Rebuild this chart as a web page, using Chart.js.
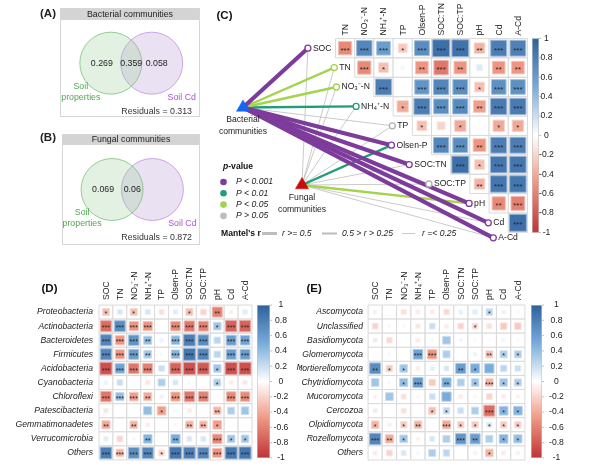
<!DOCTYPE html>
<html><head><meta charset="utf-8">
<script src="https://cdn.jsdelivr.net/npm/chart.js@4.4.1/dist/chart.umd.min.js"></script>
<style>
html,body{margin:0;padding:0;background:#fff;}
#wrap{position:relative;width:600px;height:468px;overflow:hidden;background:#fff;}
#wrap canvas{position:absolute;display:block;}
</style></head><body>
<div id="wrap">
<canvas id="cA" width="200" height="125" style="left:0;top:0;width:200px;height:125px"></canvas>
<canvas id="cB" width="200" height="125" style="left:0;top:125px;width:200px;height:125px"></canvas>
<canvas id="cC" width="400" height="250" style="left:200px;top:0;width:400px;height:250px"></canvas>
<canvas id="cD" width="300" height="218" style="left:0;top:250px;width:300px;height:218px"></canvas>
<canvas id="cE" width="300" height="218" style="left:300px;top:250px;width:300px;height:218px"></canvas>
</div>
<script>
// ================= DATA =================
const envVars = ['SOC','TN','NO₃⁻-N','NH₄⁺-N','TP','Olsen-P','SOC:TN','SOC:TP','pH','Cd','A-Cd'];

// Venn (variation partitioning): [soil properties only, shared, soil Cd only]
const vennA = [0.269, 0.359, 0.058];
const residA = 0.313;
const vennB = [0.069, 0.06, null];
const residB = 0.872;

// Panel C: upper-triangle correlations among soil variables (row i vs variables i+1..)
const cCorr = [
  [-0.55, 0.75, 0.60, -0.25, 0.70, 0.90, 0.88, -0.35, 0.80, 0.78],
  [-0.55, -0.30, -0.05, -0.50, -0.65, -0.50, 0.12, -0.50, -0.50],
  [0.80, 0.02, 0.65, 0.75, 0.70, -0.30, 0.68, 0.68],
  [-0.40, 0.80, 0.70, 0.72, -0.45, 0.82, 0.82],
  [-0.30, -0.20, -0.40, -0.02, -0.40, -0.40],
  [0.75, 0.70, -0.50, 0.80, 0.80],
  [0.90, -0.30, 0.85, 0.85],
  [-0.35, 0.85, 0.85],
  [-0.55, -0.60],
  [0.90]
];
const cStars = [
  [3,3,3,1,3,3,3,2,3,3],
  [3,1,0,2,3,2,0,2,2],
  [3,0,3,3,3,1,3,3],
  [1,3,3,3,2,3,3],
  [1,0,1,0,1,1],
  [3,3,2,3,3],
  [3,1,3,3],
  [2,3,3],
  [2,3],
  [3]
];
// Mantel tests: p class (3: <0.001, 2: <0.01, 1: <0.05, 0: >0.05), r class (2: >=0.5, 1: 0.25-0.5, 0: <0.25)
const bacP  = [3,1,1,2,0,3,3,0,3,3,3];
const bacR  = [2,1,1,1,0,2,2,0,2,2,2];
const fungP = [0,0,0,0,0,2,0,0,1,0,0];
const fungR = [0,0,0,0,0,1,0,0,1,0,0];
const pLegend = ['P > 0.05','P < 0.05','P < 0.01','P < 0.001'];

// Panel D: bacterial phyla vs soil variables
const dTaxa = ['Proteobacteria','Actinobacteria','Bacteroidetes','Firmicutes','Acidobacteria','Cyanobacteria','Chloroflexi','Patescibacteria','Gemmatimonadetes','Verrucomicrobia','Others'];
const dCorr = [
  [-0.30, 0.15, -0.30, 0.15, -0.15, 0.12, -0.30, -0.20, -0.60, 0.08, 0.12],
  [-0.70, 0.70, -0.50, -0.50, 0.02, -0.55, -0.65, -0.60, 0.35, -0.75, -0.75],
  [0.75, -0.50, 0.65, 0.40, 0.08, 0.45, 0.80, 0.70, 0.25, 0.60, 0.55],
  [0.75, -0.50, 0.60, 0.35, 0.05, 0.45, 0.85, 0.75, 0.25, 0.60, 0.60],
  [-0.85, 0.55, -0.65, -0.60, 0.20, -0.75, -0.85, -0.80, 0.35, -0.85, -0.85],
  [0.08, 0.20, 0.01, -0.12, 0.30, 0.15, 0.05, -0.02, 0.30, -0.10, -0.12],
  [-0.65, 0.40, -0.45, -0.40, 0.08, -0.50, -0.65, -0.60, -0.03, -0.55, -0.55],
  [-0.12, 0.02, 0.01, 0.40, -0.45, 0.05, -0.10, 0.01, -0.35, 0.30, 0.35],
  [-0.40, 0.01, -0.35, -0.10, 0.01, -0.05, -0.35, -0.35, -0.45, -0.02, -0.01],
  [0.12, -0.20, 0.05, 0.45, 0.01, 0.50, 0.15, 0.15, -0.55, 0.35, 0.35],
  [0.80, -0.35, 0.70, 0.75, -0.20, 0.85, 0.80, 0.75, -0.50, 0.85, 0.85]
];
const dStars = [
  [1,0,1,0,0,0,1,0,2,0,0],
  [3,3,3,3,0,3,3,3,1,3,3],
  [3,3,3,2,0,3,3,3,0,3,3],
  [3,3,3,2,0,3,3,3,0,3,3],
  [3,3,3,3,0,3,3,3,1,3,3],
  [0,0,0,0,0,0,0,0,1,0,0],
  [3,3,3,2,0,3,3,3,0,3,3],
  [0,0,0,0,1,0,0,0,2,0,0],
  [2,0,2,0,0,0,2,2,1,0,0],
  [0,0,0,2,0,2,0,0,3,1,1],
  [3,3,3,3,1,3,3,3,3,3,3]
];

// Panel E: fungal phyla vs soil variables
const eTaxa = ['Ascomycota','Unclassified','Basidiomycota','Glomeromycota','Mortierellomycota','Chytridiomycota','Mucoromycota','Cercozoa','Olpidiomycota','Rozellomycota','Others'];
const eCorr = [
  [0.08, 0.01, -0.15, -0.10, -0.10, -0.18, 0.10, 0.12, 0.25, 0.08, 0.04],
  [-0.20, 0.04, 0.04, -0.12, 0.20, -0.10, -0.20, -0.20, -0.15, -0.25, -0.25],
  [0.10, -0.18, 0.01, -0.10, 0.05, 0.35, 0.06, 0.04, -0.03, 0.06, 0.04],
  [0.01, 0.05, 0.02, 0.55, -0.50, 0.30, -0.02, 0.08, -0.30, 0.30, 0.30],
  [0.70, -0.25, 0.35, -0.10, 0.10, 0.15, 0.60, 0.50, 0.50, 0.25, 0.20],
  [0.35, 0.05, 0.40, 0.60, -0.25, 0.50, 0.30, 0.35, -0.35, 0.35, 0.30],
  [-0.08, 0.35, -0.15, -0.05, 0.20, 0.50, -0.10, -0.05, -0.20, -0.10, -0.08],
  [0.10, 0.01, -0.15, 0.01, -0.30, 0.25, 0.20, 0.30, -0.70, 0.45, 0.45],
  [-0.35, -0.08, -0.25, -0.35, 0.01, -0.40, -0.25, -0.25, 0.15, -0.25, -0.25],
  [0.75, -0.40, 0.35, -0.08, 0.15, 0.30, 0.65, 0.60, 0.30, 0.45, 0.40],
  [-0.10, -0.20, 0.15, 0.05, 0.30, 0.25, 0.02, -0.08, -0.35, -0.10, -0.08]
];
const eStars = [
  [0,0,0,0,0,0,0,0,1,0,0],
  [0,0,0,0,0,0,0,1,0,0,0],
  [0,0,0,0,0,0,0,0,0,0,0],
  [0,0,0,3,3,0,0,0,2,1,1],
  [2,1,1,0,0,0,2,1,0,0,0],
  [0,0,1,3,0,2,0,1,3,1,1],
  [0,0,0,0,0,0,0,0,0,0,0],
  [0,0,0,0,1,1,0,0,3,1,1],
  [1,0,1,2,0,3,1,1,1,1,1],
  [3,2,1,0,0,0,3,2,0,1,1],
  [0,0,0,0,0,0,0,0,1,0,0]
];
const cbTicks = [1,0.8,0.6,0.4,0.2,0,-0.2,-0.4,-0.6,-0.8,-1];

// ================= STYLE HELPERS =================
const FF = '"Liberation Sans", Arial, Helvetica, sans-serif';
function font(sz, style){ return (style ? style + ' ' : '') + sz + 'px ' + FF; }
const STOPS = [[-1,[190,52,56]],[-0.5,[238,148,128]],[0,[255,255,255]],[0.5,[120,172,218]],[1,[46,96,156]]];
function corrRGB(v){
  v = Math.max(-1, Math.min(1, v));
  for (let i = 0; i < STOPS.length - 1; i++) {
    const a = STOPS[i][0], b = STOPS[i+1][0];
    if (v <= b) { const t = (v - a) / (b - a); return STOPS[i][1].map((c,k) => Math.round(c + (STOPS[i+1][1][k] - c) * t)); }
  }
  return STOPS[STOPS.length-1][1];
}
function rgbStr(c){ return 'rgb(' + c[0] + ',' + c[1] + ',' + c[2] + ')'; }
function lighten(c, t){ return c.map(x => Math.round(x + (255 - x) * t)); }
const P_COLORS = ['#bdbdbd', '#a3d44b', '#1f9e78', '#7d3c9c'];
const R_WIDTHS = [0.8, 2.4, 4.2];

function cellPx(chart){
  const xs = chart.scales.x, ys = chart.scales.y;
  return Math.min(Math.abs(xs.getPixelForValue(1) - xs.getPixelForValue(0)), Math.abs(ys.getPixelForValue(1) - ys.getPixelForValue(0)));
}
function cellDatasets(cells){
  return [
    { data: cells.map(c => ({x:c.x, y:c.y})), pointStyle:'rect',
      pointRadius: ctx => cellPx(ctx.chart) / Math.SQRT2,
      pointBackgroundColor:'#ffffff', pointBorderColor:'#dadada', pointBorderWidth:1, order:10, clip:false },
    { data: cells, pointStyle:'rect',
      pointRadius: ctx => { const v = ctx.raw ? ctx.raw.v : 0; const s = Math.max(1.6, cellPx(ctx.chart) * 0.93 * Math.sqrt(Math.abs(v))); return s / Math.SQRT2; },
      pointBackgroundColor: ctx => rgbStr(corrRGB(ctx.raw ? ctx.raw.v : 0)),
      pointBorderColor: ctx => rgbStr(lighten(corrRGB(ctx.raw ? ctx.raw.v : 0), 0.45)),
      pointBorderWidth:1, order:9, clip:false }
  ];
}
function drawStars(chart, dsIndex, fs){
  const ctx = chart.ctx, meta = chart.getDatasetMeta(dsIndex), data = chart.data.datasets[dsIndex].data;
  ctx.save(); ctx.fillStyle = '#262626'; ctx.font = font(fs); ctx.textAlign = 'center'; ctx.textBaseline = 'alphabetic';
  meta.data.forEach((el, i) => { const s = data[i].s; if (s > 0) ctx.fillText('*'.repeat(s), el.x, el.y + fs * 0.58); });
  ctx.restore();
}
function drawColorbar(ctx, x0, x1, y0, y1, labelX, fs){
  const g = ctx.createLinearGradient(0, y0, 0, y1);
  for (let i = 0; i <= 40; i++) { g.addColorStop(i / 40, rgbStr(corrRGB(1 - 2 * i / 40))); }
  ctx.fillStyle = g; ctx.fillRect(x0, y0, x1 - x0, y1 - y0);
  ctx.strokeStyle = '#c4c4c4'; ctx.lineWidth = 0.6; ctx.strokeRect(x0 + 0.3, y0 + 0.3, x1 - x0 - 0.6, y1 - y0 - 0.6);
  ctx.font = font(fs); ctx.fillStyle = '#222'; ctx.textAlign = 'center'; ctx.textBaseline = 'middle';
  cbTicks.forEach(v => {
    const y = y0 + (1 - v) / 2 * (y1 - y0);
    ctx.strokeStyle = '#999'; ctx.lineWidth = 0.6; ctx.beginPath(); ctx.moveTo(x1, y); ctx.lineTo(x1 + 2, y); ctx.stroke();
    ctx.fillText(String(v), labelX, y);
  });
}
function baseOpts(xmin, xmax, ymin, ymax, pad){
  return {
    responsive:false, animation:false, events:[],
    layout:{padding:pad, autoPadding:false},
    plugins:{legend:{display:false}, tooltip:{enabled:false}, title:{display:false}},
    scales:{ x:{type:'linear', min:xmin, max:xmax, display:false},
             y:{type:'linear', min:ymin, max:ymax, reverse:true, display:false} }
  };
}

// ================= VENN (A, B) =================
const VENN_X = [0.363, 0.655], VENN_Y = 0.445, VENN_R = 31;
function makeVenn(id, vals, resid, title, box, panel, panelY){
  const W = 200, H = 125;
  new Chart(document.getElementById(id), {
    type:'bubble',
    data:{ datasets:[
      { data:[{x:VENN_X[0], y:VENN_Y, r:VENN_R}], backgroundColor:'rgba(150,205,150,0.28)', borderColor:'rgba(120,188,120,0.95)', borderWidth:0.8, clip:false },
      { data:[{x:VENN_X[1], y:VENN_Y, r:VENN_R}], backgroundColor:'rgba(185,160,215,0.30)', borderColor:'rgba(190,140,225,0.95)', borderWidth:0.8, clip:false }
    ]},
    options: baseOpts(0, 1, 0, 1, {left:box.l, right:W - box.r, top:box.t + box.h, bottom:H - box.b}),
    plugins:[{
      id:'vennDecor',
      beforeDatasetsDraw(chart){
        const ctx = chart.ctx; ctx.save();
        ctx.fillStyle = '#d4d4d4'; ctx.fillRect(box.l, box.t, box.r - box.l, box.h);
        ctx.strokeStyle = '#d6d6d6'; ctx.lineWidth = 1; ctx.strokeRect(box.l + 0.5, box.t + 0.5, box.r - box.l - 1, box.b - box.t - 1);
        ctx.fillStyle = '#222'; ctx.font = font(8.8); ctx.textAlign = 'center'; ctx.textBaseline = 'middle';
        ctx.fillText(title, (box.l + box.r) / 2, box.t + box.h / 2 + 0.5);
        ctx.font = font(11.5, 'bold'); ctx.textAlign = 'left'; ctx.fillText(panel, 40, panelY);
        ctx.restore();
      },
      afterDatasetsDraw(chart){
        const ctx = chart.ctx; ctx.save();
        const g = chart.getDatasetMeta(0).data[0], p = chart.getDatasetMeta(1).data[0];
        ctx.font = font(8.8); ctx.textAlign = 'center'; ctx.textBaseline = 'middle'; ctx.fillStyle = '#222';
        ctx.fillText(String(vals[0]), g.x - 9, g.y);
        ctx.fillText(String(vals[1]), (g.x + p.x) / 2, g.y);
        if (vals[2] != null) ctx.fillText(String(vals[2]), p.x + 5, g.y);
        ctx.fillStyle = '#4fa84f';
        ctx.fillText('Soil', g.x - 30, g.y + 23);
        ctx.fillText('properties', g.x - 30, g.y + 34);
        ctx.fillStyle = '#b050d8';
        ctx.fillText('Soil Cd', p.x + 30, g.y + 34);
        ctx.fillStyle = '#333'; ctx.textAlign = 'right';
        ctx.fillText('Residuals = ' + resid, box.r - 8, g.y + 48);
        ctx.restore();
      }
    }]
  });
}
makeVenn('cA', vennA, residA, 'Bacterial communities', {l:60, t:8, r:200, b:117, h:12}, '(A)', 14);
makeVenn('cB', vennB, residB, 'Fungal communities', {l:62, t:9, r:200, b:120, h:11}, '(B)', 12.5);

// ================= PANEL C =================
(function(){
  const W = 400, H = 250;
  const G = {left:135.5, top:38.5, cw:19.2, ch:19.4};
  const xmin = -0.5 - G.left / G.cw, xmax = xmin + W / G.cw;
  const ymin = -0.5 - G.top / G.ch, ymax = ymin + H / G.ch;
  const FS = 8.6;
  const mctx = document.createElement('canvas').getContext('2d');
  mctx.font = font(FS);
  const nodes = envVars.map((name, v) => {
    let lx, y;
    if (v < envVars.length - 1) { lx = (v - 1) + 0.5 - 4 / G.cw; y = v; }
    else { lx = v - 1; y = v - 1 + 15 / G.ch; }
    const x = lx - (mctx.measureText(name).width + 5) / G.cw;
    return {x, y, lx, name};
  });
  const bacNode = {x: xmin + 43 / G.cw, y: ymin + 107.5 / G.ch};
  const fungNode = {x: xmin + 102 / G.cw, y: ymin + 185 / G.ch};

  const cells = [];
  cCorr.forEach((row, r) => row.forEach((v, k) => { cells.push({x: r + k, y: r, v, s: cStars[r][k]}); }));
  const datasets = cellDatasets(cells);
  const lineSets = [];
  [[bacNode, bacP, bacR], [fungNode, fungP, fungR]].forEach(([src, P, R]) => {
    nodes.forEach((n, i) => {
      lineSets.push({ data:[{x:src.x, y:src.y}, {x:n.x, y:n.y}], showLine:true, pointRadius:0,
        borderColor:P_COLORS[P[i]], borderWidth:R_WIDTHS[R[i]], order: P[i] === 0 ? 8 : 7 - R[i] * 0.1, clip:false });
    });
  });
  datasets.push(...lineSets);
  datasets.push({ data: nodes.map(n => ({x:n.x, y:n.y})), pointStyle:'circle', pointRadius:3,
    pointBackgroundColor:'#fff', pointBorderColor: bacP.map(p => p === 0 ? '#b0b0b0' : P_COLORS[p]), pointBorderWidth:1.3, order:2, clip:false });
  const triIndex = datasets.length;
  datasets.push({ data:[bacNode, fungNode], pointStyle:'triangle', pointRadius:7.6,
    pointBackgroundColor:['#1466f5', '#cc0a0a'], pointBorderColor:['#1466f5', '#cc0a0a'], pointBorderWidth:0.5, order:1, clip:false });

  new Chart(document.getElementById('cC'), {
    type:'scatter',
    data:{datasets},
    options: baseOpts(xmin, xmax, ymin, ymax, 0),
    plugins:[{
      id:'cDecor',
      afterDatasetsDraw(chart){
        const ctx = chart.ctx, xs = chart.scales.x, ys = chart.scales.y;
        drawStars(chart, 1, 8);
        ctx.save();
        ctx.fillStyle = '#222'; ctx.font = font(FS);
        // column headers
        for (let c = 1; c < envVars.length; c++) {
          ctx.save(); ctx.translate(xs.getPixelForValue(c - 1) + 0.5, ys.getPixelForValue(-0.5) - 3);
          ctx.rotate(-Math.PI / 2); ctx.textAlign = 'left'; ctx.textBaseline = 'middle';
          ctx.fillText(envVars[c], 0, 0); ctx.restore();
        }
        // diagonal row labels
        ctx.textAlign = 'right'; ctx.textBaseline = 'middle';
        nodes.forEach(n => ctx.fillText(n.name, xs.getPixelForValue(n.lx), ys.getPixelForValue(n.y)));
        // triangle labels
        ctx.textAlign = 'center';
        const tri = chart.getDatasetMeta(triIndex).data;
        ctx.fillText('Bacterial', tri[0].x, tri[0].y + 12.5);
        ctx.fillText('communities', tri[0].x, tri[0].y + 24.5);
        ctx.fillText('Fungal', tri[1].x, tri[1].y + 12.5);
        ctx.fillText('communities', tri[1].x, tri[1].y + 24.5);
        // colorbar
        drawColorbar(ctx, 332, 339, ys.getPixelForValue(-0.5), ys.getPixelForValue(9.5), 346.5, FS);
        // legend: p-value
        ctx.textAlign = 'left'; ctx.textBaseline = 'middle'; ctx.fillStyle = '#111';
        ctx.font = font(FS, 'italic bold'); ctx.fillText('p', 23, 167);
        const pw = ctx.measureText('p').width;
        ctx.font = font(FS, 'bold'); ctx.fillText('-value', 23 + pw, 167);
        [3, 2, 1, 0].forEach((p, i) => {
          const y = 182 + i * 11.3;
          ctx.fillStyle = P_COLORS[p]; ctx.beginPath(); ctx.arc(23.5, y, 3.3, 0, Math.PI * 2); ctx.fill();
          ctx.fillStyle = '#222'; ctx.font = font(FS, 'italic'); ctx.fillText(pLegend[p], 36, y);
        });
        // legend: Mantel's r
        const my = 233.5;
        ctx.font = font(FS, 'bold'); ctx.fillStyle = '#111'; ctx.fillText("Mantel's r", 21, my);
        const items = [[62, 77, 2, 'r >= 0.5', 82], [122, 137, 1, '0.5 > r > 0.25', 142], [202, 215, 0, 'r =< 0.25', 222]];
        items.forEach(([a, b, w, t, tx]) => {
          ctx.strokeStyle = '#bdbdbd'; ctx.lineWidth = [0.8, 2, 3][w];
          ctx.beginPath(); ctx.moveTo(a, my); ctx.lineTo(b, my); ctx.stroke();
          ctx.fillStyle = '#222'; ctx.font = font(FS, 'italic'); ctx.fillText(t, tx, my);
        });
        // panel label
        ctx.fillStyle = '#111'; ctx.font = font(11.5, 'bold'); ctx.fillText('(C)', 16.5, 15.5);
        ctx.restore();
      }
    }]
  });
})();

// ================= PANELS D, E =================
function makeHeat(id, taxa, corr, stars, pad, cb, panel, panelPos, labelGap, extra){
  const cells = [];
  corr.forEach((row, r) => row.forEach((v, c) => cells.push({x:c, y:r, v, s:stars[r][c]})));
  const FS = 8.6;
  new Chart(document.getElementById(id), {
    type:'scatter',
    data:{datasets: cellDatasets(cells)},
    options: baseOpts(-0.5, envVars.length - 0.5, -0.5, taxa.length - 0.5, pad),
    plugins:[{
      id:'heatDecor',
      afterDatasetsDraw(chart){
        const ctx = chart.ctx, xs = chart.scales.x, ys = chart.scales.y, a = chart.chartArea;
        drawStars(chart, 1, 7.2);
        ctx.save();
        ctx.fillStyle = '#222'; ctx.font = font(FS);
        envVars.forEach((name, c) => {
          ctx.save(); ctx.translate(xs.getPixelForValue(c) + 0.5, a.top - 5); ctx.rotate(-Math.PI / 2);
          ctx.textAlign = 'left'; ctx.textBaseline = 'middle'; ctx.fillText(name, 0, 0); ctx.restore();
        });
        ctx.font = font(FS, 'italic'); ctx.textAlign = 'right'; ctx.textBaseline = 'middle';
        taxa.forEach((t, r) => ctx.fillText(t, a.left - labelGap, ys.getPixelForValue(r)));
        drawColorbar(ctx, cb[0], cb[1], a.top, a.bottom - 2, cb[2], FS);
        ctx.fillStyle = '#111'; ctx.font = font(11.5, 'bold'); ctx.textAlign = 'left';
        ctx.fillText(panel, panelPos[0], panelPos[1]);
        if (extra) extra(ctx);
        ctx.restore();
      }
    }]
  });
}
makeHeat('cD', dTaxa, dCorr, dStars, {left:99, right:48, top:55, bottom:8}, [257, 270, 281], '(D)', [41.5, 38.5], 6,
  ctx => { ctx.font = font(9, 'italic'); ctx.fillStyle = '#222'; ctx.textBaseline = 'middle'; ctx.fillText('M', 296.5, 117); });
makeHeat('cE', eTaxa, eCorr, eStars, {left:68, right:75, top:55, bottom:8}, [231, 242, 256.5], '(E)', [6.5, 39], 5, null);
</script>
</body></html>
